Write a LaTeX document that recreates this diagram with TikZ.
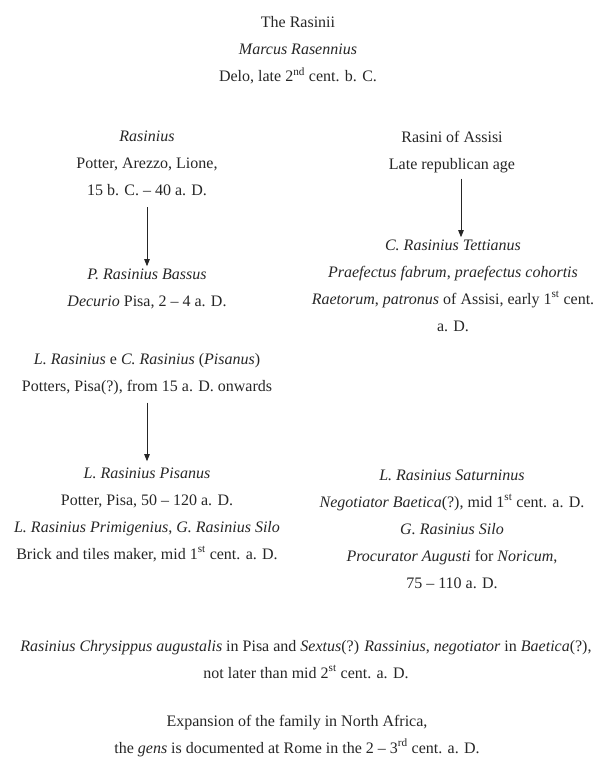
\documentclass[tikz,border=0pt]{standalone}
\usepackage{fontspec}
\setmainfont{Liberation Serif}
\usepackage{tikz}
\usetikzlibrary{arrows.meta}

\begin{document}
\begin{tikzpicture}[x=1pt, y=-1pt,
  font=\fontsize{16}{27}\selectfont,
  t/.style={align=center, inner sep=0pt, anchor=base, text=black!85},
  arr/.style={-{Triangle[length=7pt, width=5.5pt]}, black!85, line width=0.8pt}]
\useasboundingbox (0,0) rectangle (595,757);
% top
\node[t] (title) at (298, 82) {The Rasinii\\\textit{Marcus Rasennius}\\Delo, late 2\textsuperscript{nd} cent. b. C.};
% left column
\node[t] (rasinius) at (147, 195) {\textit{Rasinius}\\Potter, Arezzo, Lione,\\15 b. C. -- 40 a. D.};
\node[t] (bassus) at (147, 306) {\textit{P. Rasinius Bassus}\\\textit{Decurio} Pisa, 2 -- 4 a. D.};
\node[t] (pisani) at (147, 391) {\textit{L. Rasinius} e \textit{C. Rasinius} (\textit{Pisanus})\\Potters, Pisa(?), from 15 a. D. onwards};
\node[t] (pisanus) at (147, 559) {\textit{L. Rasinius Pisanus}\\Potter, Pisa, 50 -- 120 a. D.\\\textit{L. Rasinius Primigenius}, \textit{G. Rasinius Silo}\\Brick and tiles maker, mid 1\textsuperscript{st} cent. a. D.};
% right column
\node[t] (assisi) at (452, 169) {Rasini of Assisi\\Late republican age};
\node[t] (tett) at (453, 331) {\textit{C. Rasinius Tettianus}\\\textit{Praefectus fabrum}, \textit{praefectus cohortis}\\\textit{Raetorum}, \textit{patronus} of Assisi, early 1\textsuperscript{st} cent.\\a. D.};
\node[t] (satur) at (452, 588) {\textit{L. Rasinius Saturninus}\\\textit{Negotiator Baetica}(?), mid 1\textsuperscript{st} cent. a. D.\\\textit{G. Rasinius Silo}\\\textit{Procurator Augusti} for \textit{Noricum},\\75 -- 110 a. D.};
% bottom
\node[t] (chrys) at (306, 678) {\textit{Rasinius Chrysippus augustalis} in Pisa and \textit{Sextus}(?) \textit{Rassinius}, \textit{negotiator} in \textit{Baetica}(?),\\not later than mid 2\textsuperscript{st} cent. a. D.};
\node[t] (africa) at (297, 753) {Expansion of the family in North Africa,\\the \textit{gens} is documented at Rome in the 2 -- 3\textsuperscript{rd} cent. a. D.};

\draw[arr, shorten <=12pt, shorten >=2pt] (rasinius.south) -- (rasinius.south |- bassus.north);
\draw[arr, shorten <=6pt, shorten >=2pt] ([xshift=9pt]assisi.south) -- ([xshift=9pt]assisi.south |- tett.north);
\draw[arr, shorten <=8pt, shorten >=6pt] (pisani.south) -- (pisani.south |- pisanus.north);
\end{tikzpicture}
\end{document}
